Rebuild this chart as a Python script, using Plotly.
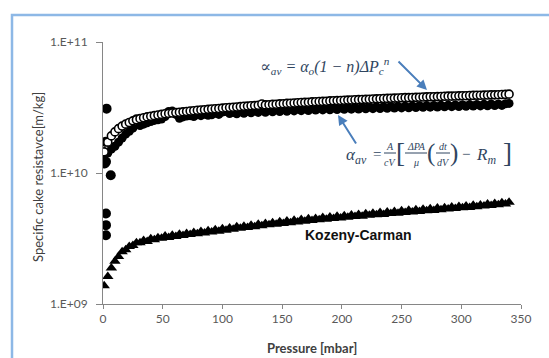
import plotly.graph_objects as go

# ---------------- data ----------------
pressure = [1, 4, 7, 10, 13, 16, 19, 22, 25, 28,
            31, 34, 37, 40, 43, 46, 49, 52, 55, 58,
            61, 64, 67, 70, 73, 76, 79, 82, 85, 88,
            91, 94, 97, 100, 103, 106, 109, 112, 115, 118,
            121, 124, 127, 130, 133, 136, 139, 142, 145, 148,
            151, 154, 157, 160, 163, 166, 169, 172, 175, 178,
            181, 184, 187, 190, 193, 196, 199, 202, 205, 208,
            211, 214, 217, 220, 223, 226, 229, 232, 235, 238,
            241, 244, 247, 250, 253, 256, 259, 262, 265, 268,
            271, 274, 277, 280, 283, 286, 289, 292, 295, 298,
            301, 304, 307, 310, 313, 316, 319, 322, 325, 328,
            331, 334, 337, 340]

# alpha_av = alpha_o (1-n) dP^n  (open circles), units 1e10 m/kg
alpha_model = [1.45, 1.72, 1.92, 2.06, 2.18, 2.28, 2.36, 2.43, 2.50, 2.55,
               2.60, 2.64, 2.68, 2.71, 2.74, 2.77, 2.80, 2.83, 2.85, 2.87,
               2.89, 2.91, 2.93, 2.95, 2.97, 2.99, 3.01, 3.03, 3.04, 3.06,
               3.08, 3.09, 3.11, 3.13, 3.15, 3.16, 3.18, 3.19, 3.21, 3.23,
               3.24, 3.26, 3.27, 3.29, 3.36, 3.31, 3.32, 3.34, 3.35, 3.37,
               3.38, 3.40, 3.41, 3.42, 3.44, 3.45, 3.46, 3.47, 3.49, 3.50,
               3.51, 3.52, 3.53, 3.55, 3.56, 3.57, 3.58, 3.59, 3.60, 3.61,
               3.62, 3.63, 3.64, 3.65, 3.66, 3.67, 3.68, 3.69, 3.70, 3.71,
               3.72, 3.73, 3.74, 3.75, 3.76, 3.76, 3.77, 3.78, 3.79, 3.80,
               3.81, 3.82, 3.82, 3.83, 3.84, 3.85, 3.86, 3.86, 3.87, 3.88,
               3.89, 3.89, 3.90, 3.91, 3.92, 3.92, 3.93, 3.94, 3.95, 3.95,
               3.96, 3.97, 3.98, 4.00]

# alpha_av from filtration data (filled circles), units 1e10 m/kg
alpha_exp = [1.40, 1.42, 1.52, 1.60, 1.72, 1.85, 1.98, 2.08, 2.20, 2.60,
             2.30, 2.36, 2.42, 2.47, 2.52, 2.55, 2.58, 2.70, 2.95, 2.97,
             2.80, 2.62, 2.68, 2.72, 2.74, 2.70, 2.78, 2.74, 2.81, 2.76,
             2.78, 2.86, 2.80, 2.92, 2.95, 2.84, 2.90, 2.83, 2.93, 2.86,
             2.95, 2.88, 2.97, 2.90, 3.00, 2.91, 3.02, 2.93, 3.04, 2.95,
             3.05, 2.96, 3.07, 2.98, 3.08, 2.99, 3.10, 3.00, 3.11, 3.02,
             3.12, 3.03, 3.13, 3.04, 3.14, 3.05, 3.15, 3.06, 3.16, 3.07,
             3.17, 3.08, 3.18, 3.09, 3.19, 3.10, 3.20, 3.11, 3.21, 3.12,
             3.22, 3.13, 3.23, 3.14, 3.24, 3.15, 3.25, 3.16, 3.26, 3.17,
             3.27, 3.18, 3.28, 3.19, 3.29, 3.20, 3.30, 3.21, 3.31, 3.22,
             3.32, 3.23, 3.33, 3.24, 3.34, 3.25, 3.35, 3.26, 3.36, 3.27,
             3.37, 3.28, 3.38, 3.40]

# early scattered experimental points
early_pressure = [3, 2, 2.5, 1.5, 2.5, 2.5, 2.5, 6.5]
early_alpha = [3.10, 1.73, 1.22, 1.18, 0.49, 0.40, 0.335, 0.96]

# Kozeny-Carman (triangles), units 1e9 m/kg
alpha_kc = [1.38, 1.62, 1.88, 2.12, 2.30, 2.50, 2.60, 2.75, 2.80, 2.93,
            2.94, 3.05, 3.00, 3.15, 3.10, 3.20, 3.18, 3.30, 3.22, 3.35,
            3.28, 3.41, 3.33, 3.46, 3.39, 3.51, 3.44, 3.57, 3.48, 3.62,
            3.55, 3.68, 3.59, 3.75, 3.66, 3.80, 3.72, 3.88, 3.78, 3.92,
            3.84, 3.99, 3.89, 4.06, 3.96, 4.11, 4.02, 4.18, 4.06, 4.24,
            4.12, 4.30, 4.18, 4.35, 4.22, 4.41, 4.29, 4.47, 4.33, 4.50,
            4.39, 4.57, 4.43, 4.61, 4.49, 4.67, 4.53, 4.72, 4.59, 4.77,
            4.65, 4.83, 4.68, 4.88, 4.75, 4.92, 4.80, 4.99, 4.83, 5.04,
            4.90, 5.09, 4.93, 5.14, 5.00, 5.19, 5.04, 5.25, 5.08, 5.29,
            5.15, 5.34, 5.18, 5.40, 5.24, 5.44, 5.31, 5.50, 5.35, 5.56,
            5.42, 5.61, 5.46, 5.67, 5.53, 5.71, 5.59, 5.79, 5.64, 5.86,
            5.73, 5.92, 5.80, 5.97]

y_ticks = [1e9, 1e10, 1e11]
y_tick_labels = ["1.E+09", "1.E+10", "1.E+11"]
x_ticks = [0, 50, 100, 150, 200, 250, 300, 350]

# ---------------- figure ----------------
W, H = 549, 358
L, R, T, B = 103, 28, 42, 54
PW, PH = W - L - R, H - T - B


def px(x):
    return (x - L) / PW


def py(y):
    return (H - B - y) / PH


fig = go.Figure()

fig.add_trace(go.Scatter(
    x=pressure, y=[v * 1e10 for v in alpha_exp], mode="markers",
    marker=dict(symbol="circle", size=9, color="black", line=dict(width=0)),
    showlegend=False))
fig.add_trace(go.Scatter(
    x=early_pressure, y=[v * 1e10 for v in early_alpha], mode="markers",
    marker=dict(symbol="circle", size=10, color="black", line=dict(width=0)),
    showlegend=False))
fig.add_trace(go.Scatter(
    x=pressure, y=[v * 1e9 for v in alpha_kc], mode="markers",
    marker=dict(symbol="triangle-up", size=10, color="black", line=dict(width=0)),
    showlegend=False))
fig.add_trace(go.Scatter(
    x=pressure, y=[v * 1e10 for v in alpha_model], mode="markers",
    marker=dict(symbol="circle", size=8, color="white",
                line=dict(width=1.6, color="black")),
    showlegend=False))

axis_col = "#868686"
tick_font = dict(family="Lato, Carlito, sans-serif", size=12, color="#595959")

fig.update_xaxes(range=[0, 350], tickvals=x_ticks, showline=True, linecolor=axis_col,
                 linewidth=1, ticks="outside", ticklen=4, tickcolor=axis_col,
                 showgrid=False, zeroline=False, tickfont=tick_font)
fig.update_yaxes(type="log", range=[9, 11], tickvals=y_ticks, ticktext=y_tick_labels,
                 showline=True, linecolor=axis_col, linewidth=1, ticks="outside",
                 ticklen=6, tickcolor=axis_col, showgrid=False, zeroline=False,
                 tickfont=tick_font, ticklabelstandoff=6)

eq_col = "#2f4560"
serif = "Liberation Serif, DejaVu Serif, serif"
arrow_col = "#4a7ebb"

ann = []
# axis titles
ann.append(dict(x=px(312), y=py(348), xref="paper", yref="paper",
                text="<b>Pressure [mbar]</b>", showarrow=False,
                font=dict(family="Lato, sans-serif", size=13, color="#404040"),
                xanchor="center", yanchor="middle"))
ann.append(dict(x=px(38), y=py(177), xref="paper", yref="paper",
                text="Specific cake resistavce[m/kg]", showarrow=False, textangle=-90,
                font=dict(family="Lato, sans-serif", size=13, color="#404040"),
                xanchor="center", yanchor="middle"))
# Kozeny-Carman label
ann.append(dict(x=px(358), y=py(235), xref="paper", yref="paper",
                text="<b>Kozeny-Carman</b>", showarrow=False,
                font=dict(family="Liberation Sans, Arial, sans-serif", size=14, color="#111111"),
                xanchor="center", yanchor="middle"))
# formula 1
ann.append(dict(x=px(258), y=py(66), xref="paper", yref="paper",
                text="<i>∝<sub>av</sub> = α<sub>o</sub>(1 − n)ΔP<sub>c</sub><sup>n</sup></i>",
                showarrow=False, font=dict(family=serif, size=16, color=eq_col),
                xanchor="left", yanchor="middle"))
# arrows
ann.append(dict(x=px(427), y=py(90), xref="paper", yref="paper", text="",
                showarrow=True, arrowhead=2, arrowsize=1, arrowwidth=2,
                arrowcolor=arrow_col, ax=-30, ay=-30, axref="pixel", ayref="pixel"))
ann.append(dict(x=px(338), y=py(115), xref="paper", yref="paper", text="",
                showarrow=True, arrowhead=2, arrowsize=1, arrowwidth=2,
                arrowcolor=arrow_col, ax=19, ay=30, axref="pixel", ayref="pixel"))


def txt(x, y, s, size, anchor="center", italic=True):
    t = "<i>" + s + "</i>" if italic else s
    ann.append(dict(x=px(x), y=py(y), xref="paper", yref="paper", text=t,
                    showarrow=False, font=dict(family=serif, size=size, color=eq_col),
                    xanchor=anchor, yanchor="middle"))


# formula 2 pieces
txt(344, 156, "α<sub>av</sub>", 17, "left")
txt(377, 154, "=", 15, italic=False)
txt(390, 146, "A", 10)
txt(390, 162, "cV", 10)
txt(400, 153, "[", 27, italic=False)
txt(416, 146, "ΔPA", 10)
txt(416, 162, "μ", 10)
txt(431, 153, "(", 25, italic=False)
txt(443, 146, "dt", 10)
txt(443, 162, "dV", 10)
txt(454, 153, ")", 25, italic=False)
txt(466, 154, "−", 15, italic=False)
txt(474, 156, "R<sub>m</sub>", 17, "left")
txt(507, 153, "]", 27, italic=False)

shapes = []
for (x0, x1) in [(384, 396), (405, 427), (436, 450)]:
    shapes.append(dict(type="line", xref="paper", yref="paper",
                       x0=px(x0), x1=px(x1), y0=py(153), y1=py(153),
                       line=dict(color=eq_col, width=1)))
# light blue frame
shapes.append(dict(type="rect", xref="paper", yref="paper",
                   x0=px(12), y0=py(15), x1=px(620), y1=py(420),
                   line=dict(color="#8db8e6", width=2.5), fillcolor="rgba(0,0,0,0)"))

fig.update_layout(width=W, height=H, margin=dict(l=L, r=R, t=T, b=B),
                  paper_bgcolor="white", plot_bgcolor="white",
                  annotations=ann, shapes=shapes, showlegend=False)

fig.write_html("out.html", config={"displayModeBar": False},
               post_script="document.body.style.margin='0px';"
                           "document.body.style.overflow='hidden';")
